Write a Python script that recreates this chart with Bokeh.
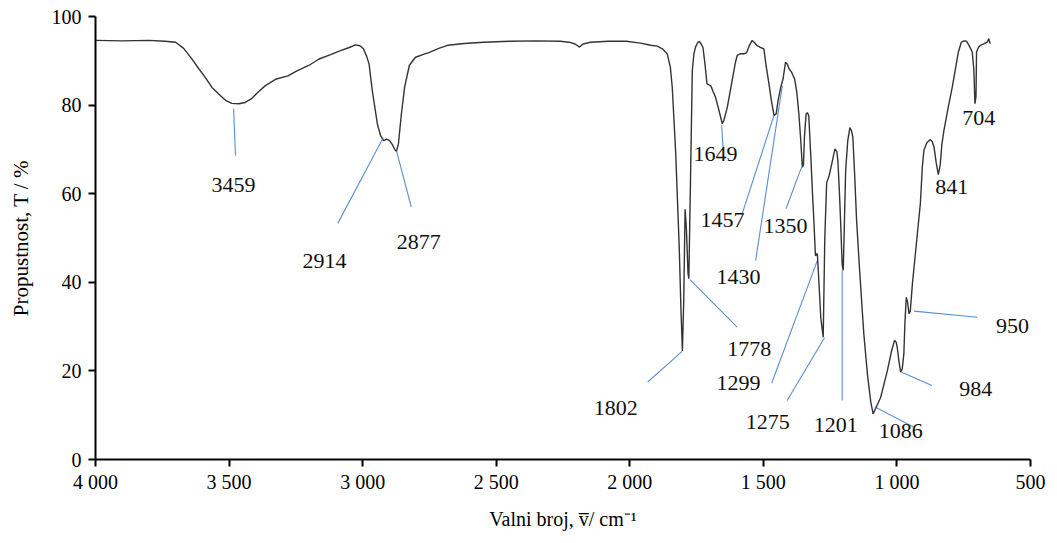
from bokeh.plotting import figure
from bokeh.models import Range1d, FixedTicker
from bokeh.core.properties import value
from bokeh.embed import file_html
from bokeh.resources import INLINE

# ---- spectrum (wavenumber / cm-1, transmittance / %) ----
wavenumber = [
    4000, 3900, 3800, 3740, 3700, 3670, 3640, 3618, 3590, 3564, 3530, 3511, 3490, 3463,
    3440, 3417, 3390, 3364, 3323, 3280, 3244, 3200, 3163, 3120, 3083, 3050, 3027, 3010,
    2997, 2985, 2976, 2964, 2945, 2933, 2921, 2910, 2899, 2890, 2878, 2873, 2866, 2855,
    2843, 2825, 2802, 2775, 2750, 2715, 2682, 2620, 2547, 2450, 2350, 2260, 2227, 2205,
    2188, 2175, 2147, 2080, 2013, 1960, 1922, 1897, 1878, 1860, 1848, 1841, 1834, 1828,
    1815, 1808, 1803, 1798, 1793, 1788, 1782, 1779, 1773, 1766, 1760, 1754, 1745, 1739,
    1733, 1726, 1718, 1711, 1704, 1696, 1688, 1679, 1667, 1654, 1648, 1635, 1620, 1605,
    1598, 1585, 1573, 1563, 1552, 1542, 1532, 1523, 1510, 1498, 1490, 1479, 1470, 1460,
    1452, 1445, 1435, 1426, 1417, 1410, 1404, 1395, 1383, 1375, 1367, 1360, 1354, 1350,
    1346, 1340, 1335, 1330, 1322, 1316, 1311, 1305, 1298, 1292, 1285, 1276, 1270, 1263,
    1254, 1243, 1232, 1225, 1221, 1215, 1211, 1205, 1201, 1196, 1192, 1184, 1176, 1170,
    1165, 1158, 1151, 1140, 1124, 1110, 1098, 1089, 1080, 1061, 1036, 1020, 1009, 1003,
    999, 992, 986, 980, 974, 970, 965, 960, 955, 950, 942, 930, 912, 905,
    899, 888, 876, 868, 861, 853, 845, 838, 832, 824, 808, 793, 780, 770,
    759, 749, 739, 728, 718, 712, 708, 704, 702, 695, 687, 675, 662, 656, 652, 649,
]
transmittance = [
    94.6, 94.5, 94.6, 94.4, 94.2, 92.8, 90.5, 88.6, 86.3, 84.0, 82.0, 81.0, 80.4, 80.3,
    80.6, 81.4, 83.0, 84.4, 85.9, 86.6, 87.8, 89.0, 90.4, 91.4, 92.3, 93.0, 93.6, 93.4,
    92.7, 91.0, 89.3, 83.3, 75.8, 73.1, 72.0, 72.3, 72.0, 71.2, 69.8, 69.6, 71.3, 78.0,
    84.0, 89.0, 90.8, 91.4, 91.9, 92.8, 93.5, 93.9, 94.2, 94.4, 94.5, 94.4, 94.2, 93.8,
    93.1, 93.8, 94.2, 94.4, 94.4, 94.0, 93.5, 93.3, 92.7, 91.6, 88.5, 84.0, 76.0, 69.0,
    48.0, 33.0, 24.5, 36.0, 56.5, 52.0, 42.0, 40.8, 62.0, 87.8, 91.5, 93.1, 94.2, 94.3,
    93.8, 93.0, 89.0, 84.8, 84.6, 84.3, 83.0, 81.8, 79.0, 75.8, 76.5, 79.5, 84.5, 89.5,
    91.2, 91.6, 91.6, 91.8, 93.5, 94.6, 94.0, 93.4, 93.0, 92.7, 89.0, 84.8, 81.0, 77.7,
    78.0, 81.0, 84.0, 86.0, 89.7, 89.2, 88.2, 87.5, 85.9, 83.0, 78.0, 72.0, 66.0, 66.5,
    73.0, 78.0, 78.3, 77.6, 68.0, 60.0, 54.0, 46.0, 46.5, 40.0, 32.0, 27.6, 50.0, 62.5,
    64.0, 67.0, 70.1, 69.5, 67.5, 60.0, 54.0, 44.0, 42.7, 55.0, 65.2, 72.0, 74.9, 74.2,
    72.8, 64.0, 54.0, 43.0, 28.4, 19.0, 13.0, 10.3, 11.5, 14.0, 20.0, 24.5, 26.9, 26.5,
    25.4, 22.0, 19.7, 20.5, 23.9, 31.0, 36.6, 35.5, 32.9, 33.5, 39.7, 47.0, 58.0, 66.0,
    69.8, 71.5, 72.2, 71.8, 70.5, 67.0, 64.3, 66.5, 71.0, 74.3, 79.5, 84.0, 88.5, 92.0,
    94.2, 94.5, 94.4, 93.2, 92.0, 88.0, 80.3, 82.0, 92.0, 93.0, 93.5, 93.8, 94.2, 95.0, 94.0, 94.0,
]

# ---- axes ----
x_ticks = [4000, 3500, 3000, 2500, 2000, 1500, 1000, 500]
x_tick_labels = ["4 000", "3 500", "3 000", "2 500", "2 000", "1 500", "1 000", "500"]
y_ticks = [0, 20, 40, 60, 80, 100]
x_title = "Valni broj, v\u0305/ cm\u207b\u00b9"
y_title = "Propustnost, T / %"

# ---- peak annotations ----
peak_labels = ["3459", "2914", "2877", "1802", "1778", "1649", "1457", "1430", "1350",
               "1299", "1275", "1201", "1086", "984", "950", "841", "704"]
ann_text_x = [3483, 3143, 2790, 2053, 1553, 1679, 1653, 1593, 1417,
              1593, 1484, 1229, 986, 705, 567, 795, 694]
ann_text_y = [61.9, 44.9, 49.1, 11.7, 25.0, 69.0, 54.0, 41.2, 52.8,
              17.2, 8.4, 7.7, 6.5, 16.0, 30.2, 61.5, 77.1]
# leader lines (peak point -> label)
lead_x0 = [3483, 2927, 2873, 1804, 1775, 1656, 1460, 1429, 1357, 1298, 1271, 1205, 1080, 982, 936]
lead_y0 = [79.2, 72.2, 69.6, 24.4, 40.6, 75.4, 77.7, 84.4, 66.0, 44.9, 27.5, 42.7, 11.8, 19.7, 33.5]
lead_x1 = [3476, 3093, 2818, 1933, 1598, 1651, 1579, 1529, 1415, 1469, 1411, 1205, 936, 869, 699]
lead_y1 = [68.6, 53.3, 57.0, 17.5, 29.9, 70.5, 55.5, 44.9, 56.6, 17.2, 13.3, 13.3, 7.3, 16.7, 32.1]

SERIF = "Liberation Serif"

p = figure(frame_width=935, frame_height=443, output_backend="svg", toolbar_location=None,
           x_range=Range1d(4000, 500), y_range=Range1d(0, 100),
           min_border_left=95, min_border_right=24, min_border_top=16, min_border_bottom=78)
p.outline_line_color = None
p.xgrid.visible = False
p.ygrid.visible = False
p.background_fill_color = "white"
p.border_fill_color = "white"

p.segment(lead_x0, lead_y0, lead_x1, lead_y1, line_color="#5b8fd3", line_width=1.1)
p.line(wavenumber, transmittance, line_color="#333333", line_width=1.4)
p.text(ann_text_x, ann_text_y, text=peak_labels, text_align="center",
       text_baseline="middle", text_font=value(SERIF), text_font_size="22px",
       text_color="#111111")

p.xaxis.ticker = FixedTicker(ticks=x_ticks)
p.xaxis.major_label_overrides = {t: l for t, l in zip(x_ticks, x_tick_labels)}
p.yaxis.ticker = FixedTicker(ticks=y_ticks)
for ax in (p.xaxis, p.yaxis):
    ax.axis_line_color = "black"
    ax.axis_line_width = 2
    ax.major_tick_line_color = "black"
    ax.major_tick_line_width = 2
    ax.major_tick_out = 7
    ax.major_tick_in = 0
    ax.minor_tick_line_color = None
    ax.major_label_text_font = SERIF
    ax.major_label_text_font_size = "20px"
    ax.major_label_text_color = "black"
    ax.axis_label_text_font = SERIF
    ax.axis_label_text_font_style = "normal"
    ax.axis_label_text_color = "black"
p.xaxis.axis_label = x_title
p.yaxis.axis_label = y_title
p.xaxis.axis_label_text_font_size = "20px"
p.yaxis.axis_label_text_font_size = "21px"
p.xaxis.major_label_standoff = 4
p.yaxis.major_label_standoff = 7
p.xaxis.axis_label_standoff = 12
p.yaxis.axis_label_standoff = 16

open("out.html", "w").write(file_html(p, INLINE))
